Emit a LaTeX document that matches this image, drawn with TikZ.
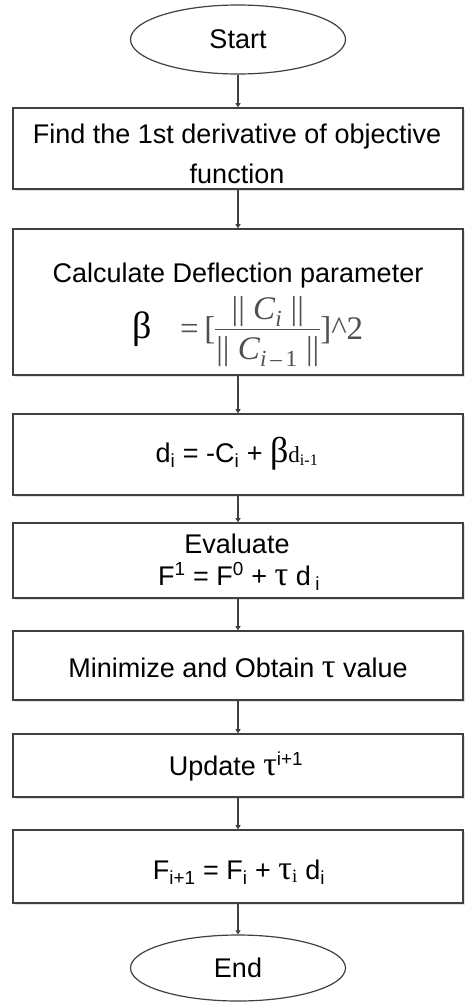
\documentclass[tikz,border=0pt]{standalone}
\usepackage{fontspec}
\setmainfont{Liberation Sans}
\newfontfamily\serif{Liberation Serif}
\usetikzlibrary{shapes.geometric,arrows.meta,shadows}
\definecolor{edge}{HTML}{404040}
\definecolor{fgray}{HTML}{505050}
\newcommand{\tauglyph}{{\serif\fontsize{34}{34}\selectfont τ}}
\begin{document}
\begin{tikzpicture}[x=1pt,y=-1pt,
  box/.style={draw=edge,line width=1.6pt,minimum width=450pt,inner sep=0pt,fill=white,
    drop shadow={shadow xshift=1.5pt,shadow yshift=-2pt,fill=black!12,opacity=1}},
  term/.style={ellipse,draw=edge,line width=1.2pt,minimum width=215pt,inner sep=0pt,fill=white},
  txt/.style={anchor=base,inner sep=0pt},
  link/.style={draw=edge,line width=1.4pt,-{Triangle[width=5pt,length=4pt]}},
  font=\fontsize{27}{39}\selectfont]
\useasboundingbox (0,0) rectangle (464,1003);
% terminals
\node[term,minimum height=69pt] (start) at (238,39.5) {Start};
\node[term,minimum height=66pt] (end) at (238,968) {End};
% boxes
\node[box,minimum height=81pt] (b1) at (238,148.5) {};
\node[box,minimum height=146pt] (b2) at (238,302) {};
\node[box,minimum height=81pt] (b3) at (238,454.5) {};
\node[box,minimum height=75pt] (b4) at (238,560.5) {};
\node[box,minimum height=69pt] (b5) at (238,665.5) {};
\node[box,minimum height=63pt] (b6) at (238,765.5) {};
\node[box,minimum height=73pt] (b7) at (238,866.5) {};
% texts
\node[txt] (t1a) at (237,144) {Find the 1st derivative of objective};
\node[txt] (t1b) at (237,183) {function};
\node[txt] (t2a) at (238,282) {Calculate Deflection parameter};
\node[txt] (t2b) at (142.5,338) {\serif\fontsize{38}{38}\selectfont β};
\node[anchor=base west,inner sep=0pt] (t2c) at (180,339)
  {\serif\fontsize{33}{33}\selectfont\color{fgray}=\,[%
   \setlength{\arrayrulewidth}{1.2pt}\renewcommand{\arraystretch}{1.0}%
   \setlength{\tabcolsep}{1pt}%
   \begin{tabular}{c}|| \textit{C}\textsubscript{\textit{i}} ||\\\hline
   \rule{0pt}{29pt}|| \textit{C}\textsubscript{\textit{i}\,–\,1} ||\end{tabular}]\textasciicircum 2};
\node[txt] (t3) at (237,462) {d\textsubscript{i} = -C\textsubscript{i} + {\serif\fontsize{36}{36}\selectfont β}{\serif\fontsize{23}{23}\selectfont d\textsubscript{i-1}}};
\node[txt] (t4a) at (237,553) {Evaluate};
\node[txt] (t4b) at (239,585) {F\textsuperscript{1} = F\textsuperscript{0} + \tauglyph\ d\,\textsubscript{i}};
\node[txt] (t5) at (238,677) {Minimize and Obtain \tauglyph\ value};
\node[txt] (t6) at (236,775) {Update \tauglyph\textsuperscript{i+1}};
\node[txt] (t7) at (239,879) {F\textsubscript{i+1} = F\textsubscript{i} + \tauglyph{\serif\textsubscript{i}} d\textsubscript{i}};
% connectors
\draw[link] (start) -- (b1);
\draw[link] (b1) -- (b2);
\draw[link] (b2) -- (b3);
\draw[link] (b3) -- (b4);
\draw[link] (b4) -- (b5);
\draw[link] (b5) -- (b6);
\draw[link] (b6) -- (b7);
\draw[link] (b7) -- (end);
\end{tikzpicture}
\end{document}
